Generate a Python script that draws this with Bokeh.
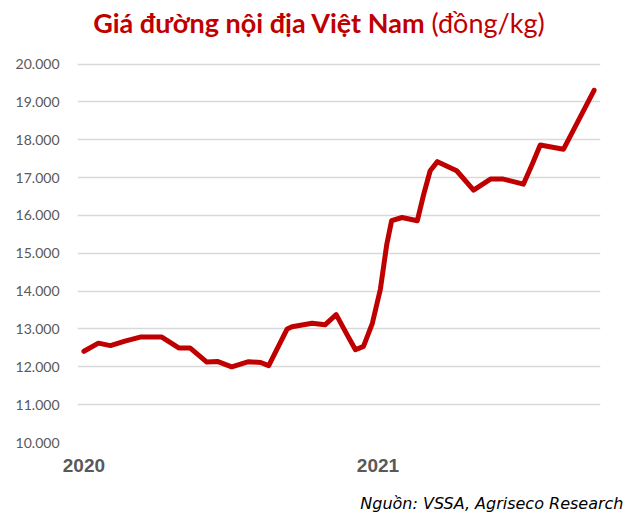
import pandas as pd
from bokeh.plotting import figure
from bokeh.models import Label, FixedTicker, DatetimeTickFormatter, Range1d, CustomJSTickFormatter, Title
from bokeh.embed import file_html
from bokeh.resources import INLINE

# ---- data ----
dates = [
    "2020-01-01", "2020-01-19", "2020-02-03", "2020-02-21", "2020-03-11",
    "2020-04-07", "2020-04-28", "2020-05-12", "2020-06-02", "2020-06-15",
    "2020-07-03", "2020-07-24", "2020-08-08", "2020-08-18", "2020-09-10",
    "2020-09-16", "2020-10-11", "2020-10-27", "2020-11-10", "2020-11-23",
    "2020-12-04", "2020-12-14", "2020-12-25", "2021-01-04", "2021-01-12",
    "2021-01-18", "2021-01-31", "2021-02-19", "2021-02-27", "2021-03-07",
    "2021-03-16", "2021-04-09", "2021-04-30", "2021-05-21", "2021-06-06",
    "2021-07-01", "2021-07-12", "2021-07-22", "2021-08-20", "2021-09-27",
]
prices = [
    12410, 12625, 12560, 12680, 12785,
    12785, 12500, 12500, 12125, 12143,
    12000, 12134, 12115, 12030, 13000,
    13060, 13150, 13110, 13380, 12870,
    12450, 12540, 13150, 14050, 15240,
    15860, 15945, 15860, 16560, 17180,
    17420, 17180, 16670, 16960, 16960,
    16825, 17354, 17860, 17750, 19306,
]
year_ticks = ["2020-01-01", "2021-01-01"]
y_ticks = [10000, 11000, 12000, 13000, 14000, 15000, 16000, 17000, 18000, 19000, 20000]
title_main = "Giá đường nội địa Việt Nam"
title_unit = "(đồng/kg)"
source_text = "Nguồn: VSSA, Agriseco Research"

RED = "#C00000"
GREY = "#595959"

x = pd.to_datetime(dates)
t0 = pd.Timestamp("2020-01-01")
x_start = t0 - pd.Timedelta(days=8)
x_end = t0 + pd.Timedelta(days=643)

p = figure(
    width=624, height=513,
    output_backend="svg", toolbar_location=None,
    x_axis_type="datetime",
    x_range=Range1d(x_start, x_end),
    y_range=Range1d(10000, 21678),   # top part of frame holds the title
    min_border_left=77, min_border_right=24,
    min_border_top=0, min_border_bottom=71,
)
p.outline_line_color = None
p.background_fill_color = "white"
p.border_fill_color = "white"

p.line(x, prices, line_color=RED, line_width=5, line_join="round", line_cap="round")

# y axis
p.yaxis.ticker = FixedTicker(ticks=y_ticks)
p.yaxis.formatter = CustomJSTickFormatter(code="return tick.toFixed(0).replace(/\\B(?=(\\d{3})+(?!\\d))/g, '.');")
p.yaxis.axis_line_color = None
p.yaxis.major_tick_line_color = None
p.yaxis.minor_tick_line_color = None
p.yaxis.major_tick_out = 0
p.yaxis.minor_tick_out = 0
p.yaxis.major_label_standoff = 18
p.yaxis.major_label_text_font = "Lato"
p.yaxis.major_label_text_font_size = "14px"
p.yaxis.major_label_text_color = GREY

# x axis
p.xaxis.ticker = FixedTicker(ticks=[pd.Timestamp(d).value / 1e6 for d in year_ticks])
p.xaxis.formatter = DatetimeTickFormatter(years="%Y", months="%Y", days="%Y")
p.xaxis.axis_line_color = None
p.xaxis.major_tick_line_color = None
p.xaxis.minor_tick_line_color = None
p.xaxis.major_tick_out = 0
p.xaxis.minor_tick_out = 0
p.xaxis.major_label_standoff = 16
p.xaxis.major_label_text_font = "Liberation Sans"
p.xaxis.major_label_text_font_style = "bold"
p.xaxis.major_label_text_font_size = "19px"
p.xaxis.major_label_text_color = GREY
# blank axis label used only as vertical spacing before the source line
p.xaxis.axis_label = " "
p.xaxis.axis_label_standoff = 4
p.xaxis.axis_label_text_font_size = "9px"

# grid
p.xgrid.grid_line_color = None
p.ygrid.grid_line_color = "#D9D9D9"
p.ygrid.grid_line_width = 1.5
p.ygrid.ticker = FixedTicker(ticks=y_ticks)

# title labels (screen units relative to frame: x from left, y up from bottom)
p.add_layout(Label(x=348, y=420, x_units="screen", y_units="screen",
                   text=title_main, text_align="right", text_baseline="alphabetic",
                   text_font="Lato", text_font_style="bold", text_font_size="27px",
                   text_color=RED))
p.add_layout(Label(x=354, y=420, x_units="screen", y_units="screen",
                   text=title_unit, text_align="left", text_baseline="alphabetic",
                   text_font="Lato", text_font_size="27px", text_color=RED))

# source line below the x axis
p.add_layout(Title(text=source_text, align="right", offset=-23, standoff=0,
                   text_font="DejaVu Sans", text_font_style="italic",
                   text_font_size="16px", text_color="#000000"), "below")

open("out.html", "w").write(file_html(p, INLINE))
